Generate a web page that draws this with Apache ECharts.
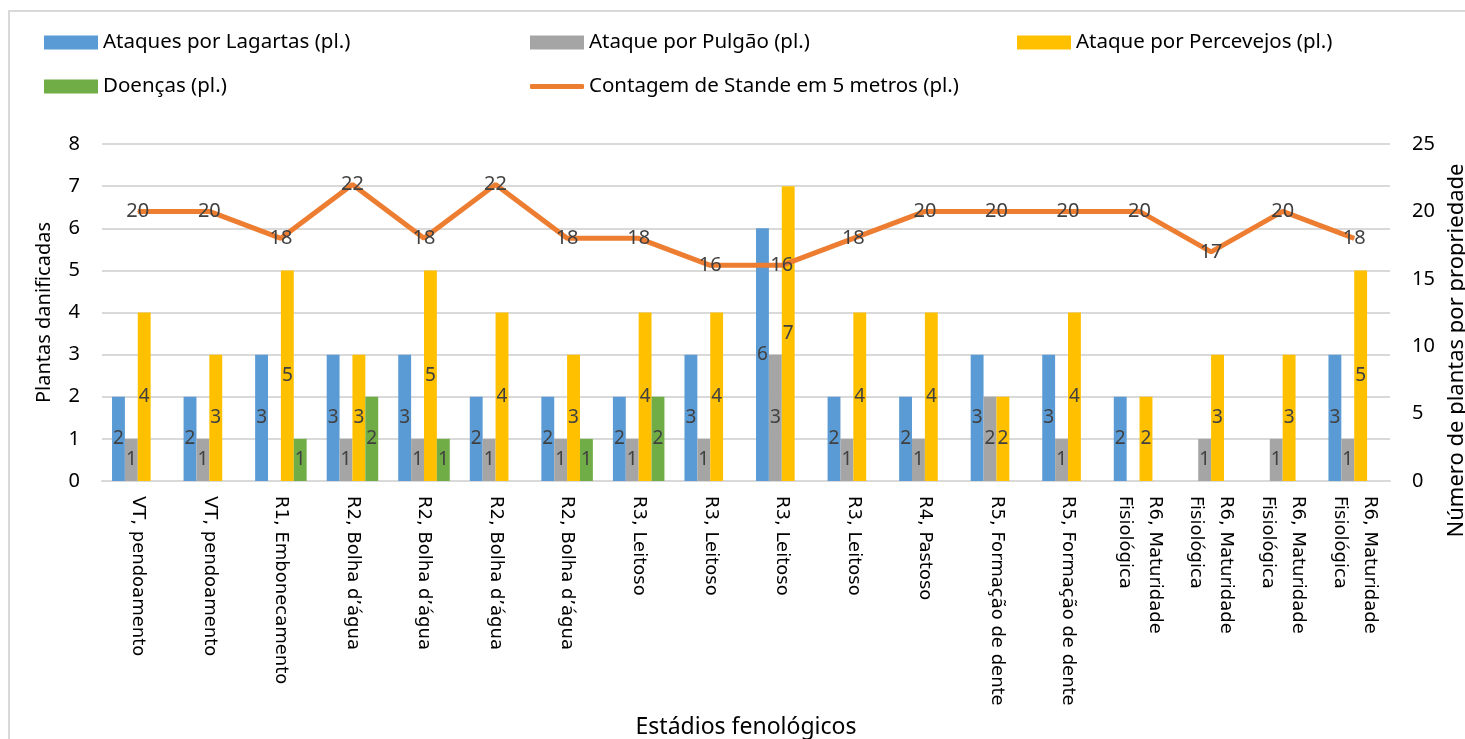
<!DOCTYPE html>
<html>
<head>
<meta charset="utf-8">
<script src="https://cdn.jsdelivr.net/npm/echarts@6/dist/echarts.min.js"></script>
<style>
  html, body { margin: 0; padding: 0; background: #fff; }
  #chart { width: 1465px; height: 739px; }
</style>
</head>
<body>
<div id="chart"></div>
<script>
// dados
var categorias = [
  'VT, pendoamento', 'VT, pendoamento', 'R1, Embonecamento',
  'R2, Bolha d\u2019água', 'R2, Bolha d\u2019água', 'R2, Bolha d\u2019água', 'R2, Bolha d\u2019água',
  'R3, Leitoso', 'R3, Leitoso', 'R3, Leitoso', 'R3, Leitoso',
  'R4, Pastoso', 'R5, Formação de dente', 'R5, Formação de dente',
  'R6, Maturidade\nFisiológica', 'R6, Maturidade\nFisiológica',
  'R6, Maturidade\nFisiológica', 'R6, Maturidade\nFisiológica'
]
var lagartas   = [2, 2, 3, 3, 3, 2, 2, 2, 3, 6, 2, 2, 3, 3, 2, 0, 0, 3]
var pulgao     = [1, 1, 0, 1, 1, 1, 1, 1, 1, 3, 1, 1, 2, 1, 0, 1, 1, 1]
var percevejos = [4, 3, 5, 3, 5, 4, 3, 4, 4, 7, 4, 4, 2, 4, 2, 3, 3, 5]
var doencas    = [0, 0, 1, 2, 1, 0, 1, 2, 0, 0, 0, 0, 0, 0, 0, 0, 0, 0]
var stande     = [20, 20, 18, 22, 18, 22, 18, 18, 16, 16, 18, 20, 20, 20, 20, 17, 20, 18]

var fonte = 'Noto Sans'
var corTexto = '#404040'
var corGrade = '#D9D9D9'

var chart = echarts.init(document.getElementById('chart'))

function rotuloBarra() {
  return {
    show: true,
    position: 'inside',
    color: corTexto,
    fontFamily: fonte,
    fontSize: 19,
    formatter: function (p) { return p.value ? p.value : '' }
  }
}

function barra(nome, dados, cor) {
  return {
    name: nome,
    type: 'bar',
    data: dados,
    itemStyle: { color: cor },
    barGap: '0%',
    barCategoryGap: '28%',
    label: rotuloBarra()
  }
}

function legenda(nome, left, top, h) {
  return {
    data: [nome],
    left: left,
    top: top,
    padding: 0,
    itemWidth: 54,
    itemHeight: h || 14,
    itemGap: 4,
    icon: h ? 'roundRect' : 'rect',
    textStyle: { fontFamily: fonte, fontSize: 20.5, color: '#000' }
  }
}

chart.setOption({
  animation: false,
  textStyle: { fontFamily: fonte },
  graphic: [
    { type: 'line', shape: { x1: 8, y1: 11, x2: 1465, y2: 11 }, style: { stroke: corGrade, lineWidth: 2 } },
    { type: 'line', shape: { x1: 9, y1: 11, x2: 9, y2: 739 }, style: { stroke: corGrade, lineWidth: 2 } }
  ],
  legend: [
    legenda('Ataques por Lagartas (pl.)', 44, 32),
    legenda('Ataque por Pulgão (pl.)', 530, 32),
    legenda('Ataque por Percevejos (pl.)', 1017, 32),
    legenda('Doenças (pl.)', 44, 76),
    legenda('Contagem de Stande em 5 metros (pl.)', 530, 76, 5)
  ],
  grid: { left: 102, right: 75, top: 144, bottom: 258, outerBoundsMode: 'none' },
  xAxis: {
    type: 'category',
    data: categorias,
    name: 'Estádios fenológicos',
    nameLocation: 'middle',
    nameGap: 235,
    nameTextStyle: { fontFamily: fonte, fontSize: 23, color: '#000' },
    axisTick: { show: false },
    axisLine: { lineStyle: { color: corGrade, width: 2 } },
    axisLabel: {
      interval: 0,
      rotate: -90,
      margin: 15,
      fontFamily: 'DejaVu Sans',
      fontSize: 18,
      lineHeight: 30,
      color: '#000'
    }
  },
  yAxis: [
    {
      type: 'value',
      min: 0,
      max: 8,
      interval: 1,
      name: 'Plantas danificadas',
      nameLocation: 'middle',
      nameGap: 48,
      nameTextStyle: { fontFamily: fonte, fontSize: 20, color: '#000' },
      axisLabel: { fontFamily: fonte, fontSize: 20, color: '#000', margin: 22 },
      splitLine: { lineStyle: { color: corGrade, width: 2 } },
      axisLine: { show: false },
      axisTick: { show: false }
    },
    {
      type: 'value',
      min: 0,
      max: 25,
      interval: 5,
      name: 'Número de plantas por propriedade',
      nameLocation: 'middle',
      nameGap: 56,
      nameRotate: 90,
      nameTextStyle: { fontFamily: fonte, fontSize: 22, color: '#000', padding: [0, 76, 0, 0] },
      axisLabel: { fontFamily: fonte, fontSize: 20, color: '#000', margin: 22 },
      splitLine: { show: false },
      axisLine: { show: false },
      axisTick: { show: false }
    }
  ],
  series: [
    barra('Ataques por Lagartas (pl.)', lagartas, '#5B9BD5'),
    barra('Ataque por Pulgão (pl.)', pulgao, '#A5A5A5'),
    barra('Ataque por Percevejos (pl.)', percevejos, '#FFC000'),
    barra('Doenças (pl.)', doencas, '#70AD47'),
    {
      name: 'Contagem de Stande em 5 metros (pl.)',
      type: 'line',
      yAxisIndex: 1,
      data: stande,
      showSymbol: true,
      symbol: 'circle',
      symbolSize: 1,
      z: 5,
      itemStyle: { color: '#ED7D31' },
      lineStyle: { color: '#ED7D31', width: 5 },
      label: {
        show: true,
        position: 'inside',
        color: corTexto,
        fontFamily: fonte,
        fontSize: 20
      }
    }
  ]
})
</script>
</body>
</html>
